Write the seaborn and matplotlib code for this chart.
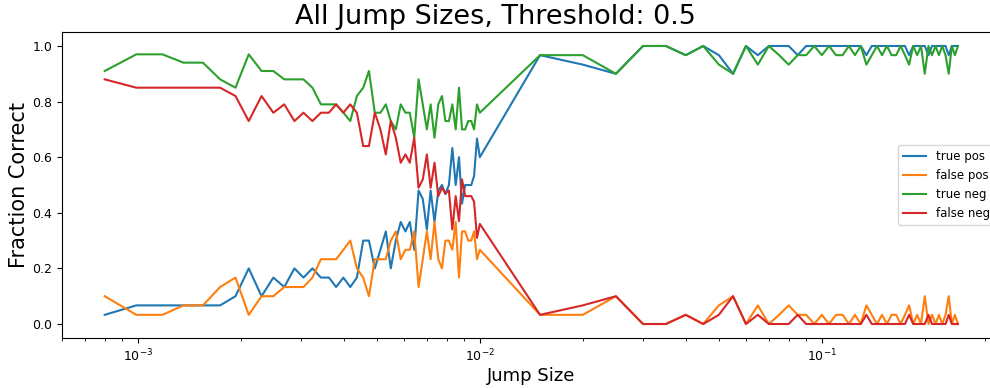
import matplotlib
matplotlib.use('Agg')
import matplotlib.pyplot as plt
import numpy as np
import pandas as pd
import seaborn as sns

# jump sizes: dense block up to 1e-2, then 0.015 .. 0.25
jump_size = [0.00080, 0.00099, 0.00118, 0.00136, 0.00155, 0.00174, 0.00193, 0.00211, 0.00230, 0.00249,
             0.00268, 0.00287, 0.00305, 0.00324, 0.00343, 0.00362, 0.00380, 0.00399, 0.00418, 0.00437,
             0.00456, 0.00474, 0.00493, 0.00512, 0.00531, 0.00549, 0.00568, 0.00587, 0.00606, 0.00624,
             0.00643, 0.00662, 0.00681, 0.00700, 0.00718, 0.00737, 0.00756, 0.00775, 0.00793, 0.00812,
             0.00831, 0.00850, 0.00869, 0.00887, 0.00906, 0.00925, 0.00944, 0.00962, 0.00981, 0.01000,
             0.015, 0.020, 0.025, 0.030, 0.035, 0.040, 0.045, 0.050, 0.055, 0.060,
             0.065, 0.070, 0.075, 0.080, 0.085, 0.090, 0.095, 0.100, 0.105, 0.110,
             0.115, 0.120, 0.125, 0.130, 0.135, 0.140, 0.145, 0.150, 0.155, 0.160,
             0.165, 0.170, 0.175, 0.180, 0.185, 0.190, 0.195, 0.200, 0.205, 0.210,
             0.215, 0.220, 0.225, 0.230, 0.235, 0.240, 0.245, 0.250]

true_pos = [0.033, 0.067, 0.067, 0.067, 0.067, 0.067, 0.100, 0.200, 0.100, 0.167,
            0.133, 0.200, 0.167, 0.200, 0.167, 0.167, 0.133, 0.167, 0.133, 0.167,
            0.300, 0.300, 0.200, 0.267, 0.333, 0.200, 0.300, 0.367, 0.333, 0.367,
            0.267, 0.480, 0.450, 0.340, 0.480, 0.367, 0.480, 0.500, 0.467, 0.500,
            0.633, 0.500, 0.600, 0.433, 0.500, 0.500, 0.500, 0.533, 0.667, 0.600,
            0.967, 0.933, 0.900, 1.000, 1.000, 0.967, 1.000, 0.967, 0.900, 1.000,
            0.967, 1.000, 1.000, 1.000, 0.967, 1.000, 1.000, 1.000, 1.000, 1.000,
            1.000, 1.000, 1.000, 1.000, 0.967, 1.000, 1.000, 1.000, 1.000, 1.000,
            1.000, 1.000, 1.000, 0.967, 1.000, 1.000, 1.000, 1.000, 0.967, 1.000,
            1.000, 1.000, 1.000, 1.000, 0.967, 1.000, 1.000, 1.000]

false_pos = [0.100, 0.033, 0.033, 0.067, 0.067, 0.133, 0.167, 0.033, 0.100, 0.100,
             0.133, 0.133, 0.133, 0.167, 0.233, 0.233, 0.233, 0.267, 0.300, 0.200,
             0.167, 0.100, 0.233, 0.233, 0.233, 0.300, 0.333, 0.233, 0.267, 0.267,
             0.333, 0.133, 0.233, 0.333, 0.233, 0.367, 0.233, 0.200, 0.300, 0.300,
             0.267, 0.367, 0.167, 0.333, 0.333, 0.300, 0.300, 0.333, 0.233, 0.267,
             0.033, 0.033, 0.100, 0.000, 0.000, 0.033, 0.000, 0.067, 0.100, 0.000,
             0.067, 0.000, 0.033, 0.067, 0.033, 0.033, 0.000, 0.033, 0.000, 0.033,
             0.033, 0.000, 0.033, 0.000, 0.067, 0.033, 0.000, 0.033, 0.000, 0.033,
             0.033, 0.000, 0.033, 0.067, 0.000, 0.033, 0.000, 0.100, 0.000, 0.033,
             0.000, 0.033, 0.000, 0.033, 0.100, 0.000, 0.033, 0.000]

true_neg = [0.910, 0.970, 0.970, 0.940, 0.940, 0.880, 0.850, 0.970, 0.910, 0.910,
            0.880, 0.880, 0.880, 0.850, 0.790, 0.790, 0.790, 0.760, 0.730, 0.820,
            0.850, 0.910, 0.760, 0.760, 0.790, 0.730, 0.700, 0.790, 0.760, 0.760,
            0.670, 0.880, 0.790, 0.700, 0.790, 0.670, 0.790, 0.820, 0.730, 0.730,
            0.790, 0.700, 0.850, 0.700, 0.700, 0.730, 0.730, 0.700, 0.790, 0.760,
            0.967, 0.967, 0.900, 1.000, 1.000, 0.967, 1.000, 0.933, 0.900, 1.000,
            0.933, 1.000, 0.967, 0.933, 0.967, 0.967, 1.000, 0.967, 1.000, 0.967,
            0.967, 1.000, 0.967, 1.000, 0.933, 0.967, 1.000, 0.967, 1.000, 0.967,
            0.967, 1.000, 0.967, 0.933, 1.000, 0.967, 1.000, 0.900, 1.000, 0.967,
            1.000, 0.967, 1.000, 0.967, 0.900, 1.000, 0.967, 1.000]

false_neg = [0.880, 0.850, 0.850, 0.850, 0.850, 0.850, 0.820, 0.730, 0.820, 0.760,
             0.790, 0.730, 0.760, 0.730, 0.760, 0.760, 0.790, 0.760, 0.790, 0.760,
             0.640, 0.640, 0.760, 0.700, 0.610, 0.730, 0.670, 0.580, 0.610, 0.580,
             0.670, 0.490, 0.520, 0.610, 0.490, 0.580, 0.460, 0.490, 0.470, 0.480,
             0.340, 0.460, 0.370, 0.520, 0.460, 0.460, 0.460, 0.440, 0.310, 0.360,
             0.033, 0.067, 0.100, 0.000, 0.000, 0.033, 0.000, 0.033, 0.100, 0.000,
             0.033, 0.000, 0.000, 0.000, 0.033, 0.000, 0.000, 0.000, 0.000, 0.000,
             0.000, 0.000, 0.000, 0.000, 0.033, 0.000, 0.000, 0.000, 0.000, 0.000,
             0.000, 0.000, 0.000, 0.033, 0.000, 0.000, 0.000, 0.000, 0.033, 0.000,
             0.000, 0.000, 0.000, 0.000, 0.033, 0.000, 0.000, 0.000]

series_names = ['true pos', 'false pos', 'true neg', 'false neg']

# long format for seaborn
df = pd.DataFrame({
    'jump': jump_size * 4,
    'frac': true_pos + false_pos + true_neg + false_neg,
    'series': np.repeat(series_names, len(jump_size)),
})

fig = plt.figure(figsize=(9.9, 3.88), dpi=100)
# axes run a little past the right edge (the original picture is cropped there)
ax = fig.add_axes([0.0626, 0.1291, 0.948, 0.7882])

sns.lineplot(data=df, x='jump', y='frac', hue='series', hue_order=series_names,
             palette=sns.color_palette('tab10', 4), errorbar=None, linewidth=1.5, ax=ax)

ax.set_xscale('log')
ax.set_xlim(6.0e-4, 0.333)
ax.set_ylim(-0.05, 1.05)
ax.tick_params(labelsize=9)
fig.suptitle('All Jump Sizes, Threshold: 0.5', fontsize=19.5, x=0.5, y=0.956, va='center')
ax.set_xlabel('Jump Size', fontsize=13, labelpad=2)
ax.set_ylabel('Fraction Correct', fontsize=15, labelpad=2)
sns.move_legend(ax, 'center right', title=None, fontsize=8.5)

fig.savefig('out.png', dpi=100)
